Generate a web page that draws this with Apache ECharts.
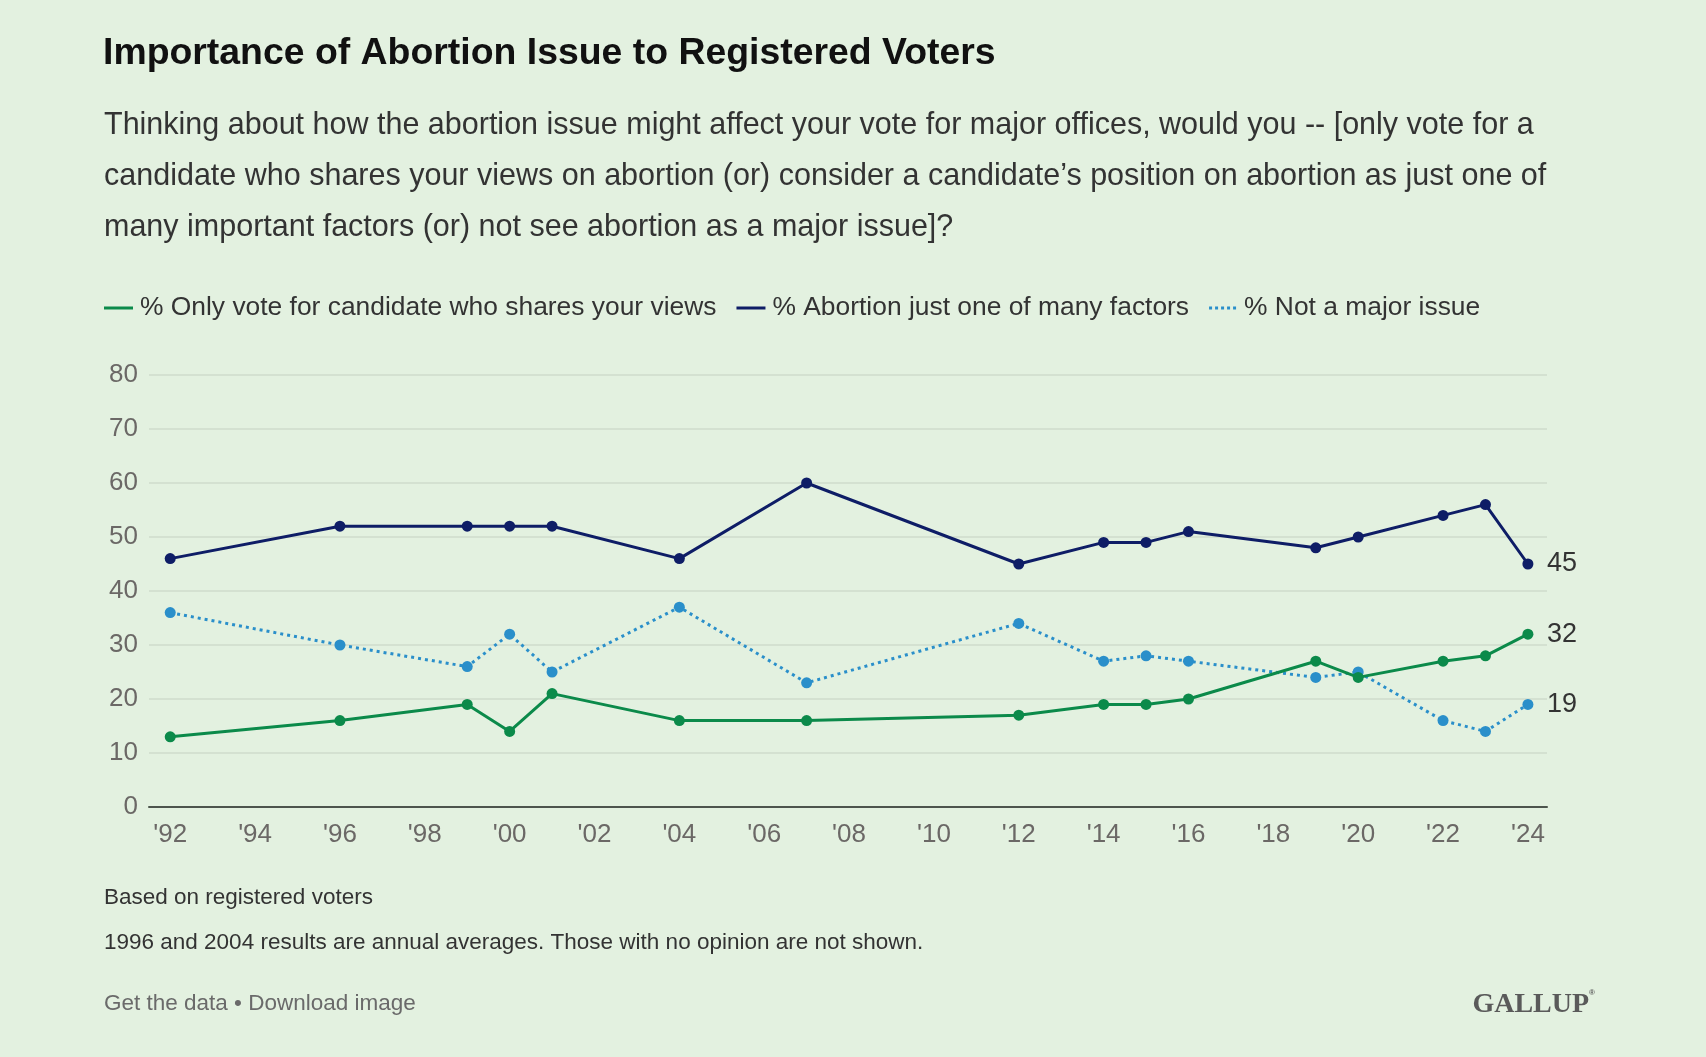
<!DOCTYPE html>
<html>
<head>
<meta charset="utf-8">
<script src="https://cdn.jsdelivr.net/npm/echarts@6/dist/echarts.min.js"></script>
<style>
html,body{margin:0;padding:0;background:#e3f1e0;}
#c{width:1706px;height:1057px;}
</style>
</head>
<body>
<div id="c"></div>
<script>
const years = [1992, 1996, 1999, 2000, 2001, 2004, 2007, 2012, 2014, 2015, 2016, 2019, 2020, 2022, 2023, 2024];
const onlyVote = [13, 16, 19, 14, 21, 16, 16, 17, 19, 19, 20, 27, 24, 27, 28, 32];
const oneOfMany = [46, 52, 52, 52, 52, 46, 60, 45, 49, 49, 51, 48, 50, 54, 56, 45];
const notMajor = [36, 30, 26, 32, 25, 37, 23, 34, 27, 28, 27, 24, 25, 16, 14, 19];
const xTicks = [1992, 1994, 1996, 1998, 2000, 2002, 2004, 2006, 2008, 2010, 2012, 2014, 2016, 2018, 2020, 2022, 2024];
const seriesNames = ['% Only vote for candidate who shares your views', '% Abortion just one of many factors', '% Not a major issue'];

const FONT = '"Liberation Sans", Arial, sans-serif';
const cGreen = '#0b8a4a', cNavy = '#0e1d66', cBlue = '#2a8fca';

function pairs(vals) { return years.map((y, i) => [y, vals[i]]); }

const chart = echarts.init(document.getElementById('c'), null, {renderer: 'canvas'});
const endLabel = {show: true, formatter: p => p.value[1], fontSize: 27, color: '#333', fontFamily: FONT, distance: 19};

chart.setOption({
  animation: false,
  backgroundColor: '#e3f1e0',
  textStyle: {fontFamily: FONT},
  title: [
    {text: 'Importance of Abortion Issue to Registered Voters', left: 98, top: 27,
     textStyle: {fontSize: 37.4, fontWeight: 'bold', color: '#111', fontFamily: FONT, lineHeight: 44}},
    {text: 'Thinking about how the abortion issue might affect your vote for major offices, would you -- [only vote for a\ncandidate who shares your views on abortion (or) consider a candidate\u2019s position on abortion as just one of\nmany important factors (or) not see abortion as a major issue]?',
     left: 99, top: 95,
     textStyle: {fontSize: 30.5, fontWeight: 'normal', color: '#333', fontFamily: FONT, lineHeight: 51}},
    {text: 'Based on registered voters', left: 99, top: 880,
     textStyle: {fontSize: 22.5, fontWeight: 'normal', color: '#333', fontFamily: FONT, lineHeight: 26}},
    {text: '1996 and 2004 results are annual averages. Those with no opinion are not shown.', left: 99, top: 925,
     textStyle: {fontSize: 22.5, fontWeight: 'normal', color: '#333', fontFamily: FONT, lineHeight: 26}},
    {text: 'Get the data \u2022 Download image', left: 99, top: 986,
     textStyle: {fontSize: 22.5, fontWeight: 'normal', color: '#6a6a6a', fontFamily: FONT, lineHeight: 26}},
    {text: '{g|GALLUP}{r|\u00ae}', right: 106, top: 984,
     textStyle: {rich: {
       g: {fontSize: 28, fontFamily: '"Liberation Serif", "DejaVu Serif", serif', color: '#5a5a5a', lineHeight: 32},
       r: {fontSize: 8, fontFamily: FONT, color: '#5a5a5a', verticalAlign: 'top', lineHeight: 32}
     }}}
  ],
  legend: {
    left: 99, top: 290, itemGap: 20, itemWidth: 29, itemHeight: 3,
    textStyle: {fontSize: 26.4, color: '#333', fontFamily: FONT, padding: [0, 0, 0, 2]},
    data: [
      {name: seriesNames[0], icon: 'rect'},
      {name: seriesNames[1], icon: 'rect'},
      {name: seriesNames[2], icon: 'path://M0,0h3v3h-3zM6,0h3v3h-3zM12,0h3v3h-3zM18,0h3v3h-3zM24,0h3v3h-3z'}
    ]
  },
  grid: {left: 149, right: 159, top: 375, bottom: 250, containLabel: false},
  xAxis: {
    type: 'value', min: 1991.5, max: 2024.45,
    axisLine: {show: true, lineStyle: {color: '#4d554d', width: 2}},
    axisTick: {show: false},
    splitLine: {show: false},
    axisLabel: {
      customValues: xTicks, showMinLabel: true, showMaxLabel: true,
      formatter: v => "'" + String(v).slice(2),
      fontSize: 26, color: '#6b6866', margin: 15, fontFamily: FONT
    }
  },
  yAxis: {
    type: 'value', min: 0, max: 80, interval: 10,
    axisLine: {show: false}, axisTick: {show: false},
    splitLine: {lineStyle: {color: '#cfdbcc', width: 1.5}},
    axisLabel: {fontSize: 26, color: '#6b6866', margin: 11, fontFamily: FONT}
  },
  series: [
    {name: seriesNames[0], type: 'line', data: pairs(onlyVote), z: 4,
     symbol: 'circle', symbolSize: 11, color: cGreen,
     lineStyle: {width: 3, color: cGreen}, itemStyle: {color: cGreen}, endLabel: endLabel},
    {name: seriesNames[1], type: 'line', data: pairs(oneOfMany), z: 3,
     symbol: 'circle', symbolSize: 11, color: cNavy,
     lineStyle: {width: 3, color: cNavy}, itemStyle: {color: cNavy}, endLabel: endLabel},
    {name: seriesNames[2], type: 'line', data: pairs(notMajor), z: 2,
     symbol: 'circle', symbolSize: 11, color: cBlue,
     lineStyle: {width: 3, color: cBlue, type: [3, 4]}, itemStyle: {color: cBlue}, endLabel: endLabel}
  ]
});
</script>
</body>
</html>
